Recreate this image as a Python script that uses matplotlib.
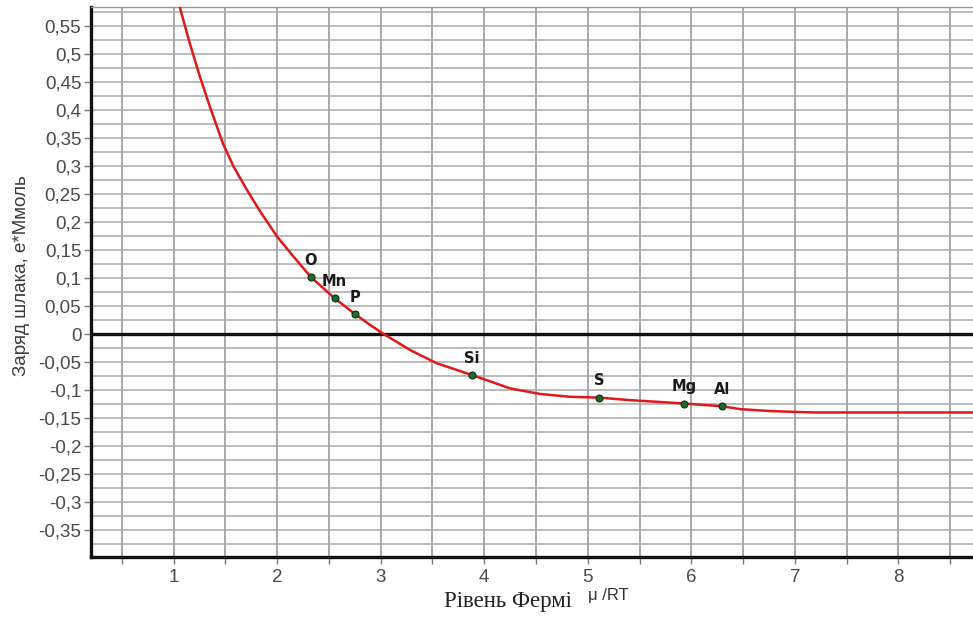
import matplotlib.pyplot as plt
import numpy as np

# Slag charge vs Fermi level curve
curve_x = [1.063, 1.159, 1.256, 1.353, 1.449, 1.48, 1.58, 1.71, 1.84, 2.00,
           2.16, 2.325, 2.555, 2.75, 2.90, 3.03, 3.29, 3.54, 3.88, 4.25,
           4.54, 4.83, 5.11, 5.41, 5.93, 6.30, 6.47, 6.76, 7.18, 8.73]
curve_y = [0.582, 0.518, 0.459, 0.405, 0.355, 0.339, 0.299, 0.257, 0.218, 0.174,
           0.138, 0.102, 0.064, 0.036, 0.016, 0.0, -0.029, -0.052, -0.073, -0.097,
           -0.107, -0.112, -0.1135, -0.118, -0.124, -0.129, -0.134, -0.1375, -0.140, -0.140]

# Elements on the curve
elements = ['O', 'Mn', 'P', 'Si', 'S', 'Mg', 'Al']
elem_x = [2.325, 2.555, 2.75, 3.88, 5.11, 5.93, 6.30]
elem_y = [0.102, 0.064, 0.036, -0.073, -0.1135, -0.124, -0.129]

y_ticks = [0.55, 0.5, 0.45, 0.4, 0.35, 0.3, 0.25, 0.2, 0.15, 0.1, 0.05, 0,
           -0.05, -0.1, -0.15, -0.2, -0.25, -0.3, -0.35]
x_ticks = [1, 2, 3, 4, 5, 6, 7, 8]


def fmt(v):
    # decimal comma
    return ('%g' % v).replace('.', ',')


fig = plt.figure(figsize=(9.73, 6.23), dpi=100)
ax = fig.add_axes([0.0935, 0.106, 0.9065, 0.8828])

ax.set_xlim(0.203, 8.72)
ax.set_ylim(-0.398, 0.584)

# grid
for gx in np.arange(0.5, 8.75, 0.5):
    ax.axvline(gx, color='#929292', lw=1.1, zorder=1)
for gy in np.arange(-0.375, 0.58, 0.025):
    ax.axhline(gy, color='#a8a8a8', lw=1.1, zorder=1)
ax.axhline(0, color='#111111', lw=2.4, zorder=2)

ax.plot(curve_x, curve_y, color='#e01818', lw=1.8, zorder=3)
ax.plot(elem_x, elem_y, 'o', ms=5, mfc='#1f6a2a', mec='#0b2e10', mew=0.8, zorder=4)
for name, ex, ey in zip(elements, elem_x, elem_y):
    ax.annotate(name, (ex, ey), xytext=(0, 12), textcoords='offset points',
                ha='center', va='center', fontsize=10.5, fontweight='bold',
                family='DejaVu Sans', color='#1a1a1a', zorder=5)

ax.set_xticks(x_ticks)
ax.set_xticklabels([str(t) for t in x_ticks])
ax.set_xticks(np.arange(0.5, 8.75, 0.5), minor=True)
ax.set_yticks(y_ticks)
ax.set_yticklabels([fmt(t) for t in y_ticks])

ax.tick_params(axis='both', which='both', direction='out', color='#777777',
               labelsize=13.5, labelcolor='#4a4a4a', width=1)
ax.tick_params(axis='y', length=5, pad=2)
ax.tick_params(axis='x', which='major', length=5, pad=4)
ax.tick_params(axis='x', which='minor', length=5)
for lab in ax.get_xticklabels() + ax.get_yticklabels():
    lab.set_family('Liberation Sans')

ax.spines['left'].set_linewidth(2.4)
ax.spines['bottom'].set_linewidth(2.4)
ax.spines['left'].set_color('#111111')
ax.spines['bottom'].set_color('#111111')
ax.spines['top'].set_color('#999999')
ax.spines['top'].set_linewidth(1)
ax.spines['right'].set_visible(False)

# axis titles
fig.text(0.0226, 0.557, 'Заряд шлака, е*Ммоль', rotation=90, ha='center',
         va='center', fontsize=13.5, color='#3a3a3a', family='Liberation Sans')
fig.text(0.4563, 0.0257, 'Рівень Фермі', ha='left', va='baseline', fontsize=16.5,
         color='#222222', family='Liberation Serif')
fig.text(0.6043, 0.0369, 'μ /RT', ha='left', va='baseline', fontsize=12,
         color='#333333', family='Liberation Sans')

fig.savefig('out.png', dpi=100)
